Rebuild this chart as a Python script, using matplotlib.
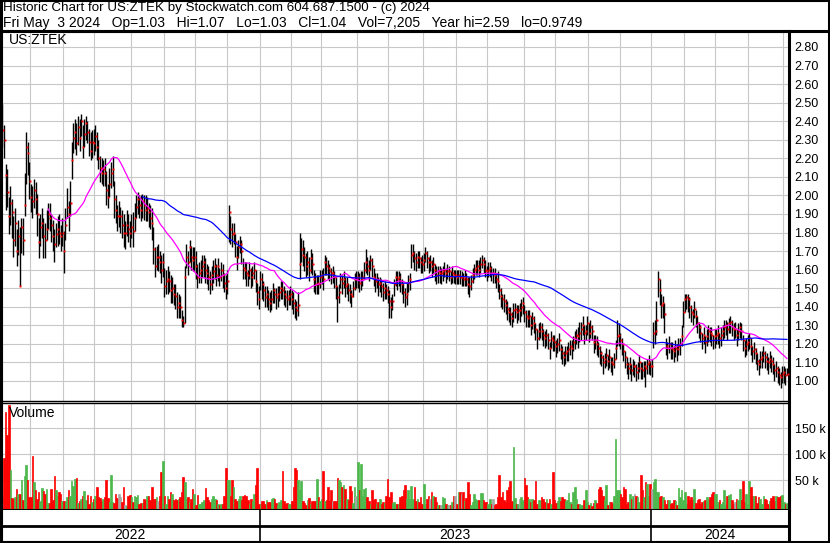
import numpy as np
import pandas as pd
import matplotlib
matplotlib.use("Agg")
import matplotlib.pyplot as plt
from matplotlib.lines import Line2D
from pandas.tseries.holiday import USFederalHolidayCalendar
from pandas.tseries.offsets import CustomBusinessDay

plt.rcParams["font.family"] = ["Liberation Sans", "DejaVu Sans"]

# daily closes (May 2022 -> May 3 2024)
close = [
    2.35, 2.30, 2.11, 2.02, 1.89, 1.96, 1.91, 1.76, 1.85, 1.70,
    1.78, 1.51, 1.83, 1.76, 1.95, 2.26, 2.23, 2.08, 1.99, 1.97,
    2.03, 1.98, 1.90, 1.75, 1.83, 1.85, 1.78, 1.76, 1.82, 1.90,
    1.88, 1.84, 1.78, 1.74, 1.79, 1.82, 1.80, 1.78, 1.80, 1.70,
    1.84, 1.94, 1.90, 1.96, 2.19, 2.31, 2.34, 2.28, 2.37, 2.31,
    2.40, 2.26, 2.33, 2.39, 2.34, 2.29, 2.24, 2.29, 2.28, 2.32,
    2.26, 2.20, 2.15, 2.12, 2.14, 2.12, 2.03, 1.99, 2.06, 2.12,
    2.14, 1.98, 1.92, 1.89, 1.89, 1.89, 1.84, 1.80, 1.80, 1.84,
    1.82, 1.80, 1.83, 1.81, 1.88, 1.94, 1.98, 1.95, 1.92, 1.97,
    1.95, 1.92, 1.93, 1.91, 1.88, 1.85, 1.71, 1.62, 1.67, 1.67,
    1.64, 1.60, 1.64, 1.51, 1.54, 1.55, 1.54, 1.49, 1.50, 1.47,
    1.46, 1.40, 1.42, 1.40, 1.33, 1.31, 1.56, 1.67, 1.64, 1.72,
    1.67, 1.65, 1.67, 1.62, 1.56, 1.58, 1.60, 1.62, 1.64, 1.60,
    1.58, 1.56, 1.52, 1.57, 1.59, 1.62, 1.57, 1.62, 1.56, 1.60,
    1.57, 1.53, 1.50, 1.54, 1.91, 1.82, 1.79, 1.80, 1.75, 1.67,
    1.72, 1.74, 1.70, 1.61, 1.60, 1.58, 1.57, 1.60, 1.56, 1.58,
    1.60, 1.54, 1.48, 1.44, 1.55, 1.52, 1.49, 1.45, 1.47, 1.44,
    1.42, 1.44, 1.49, 1.47, 1.45, 1.47, 1.48, 1.50, 1.49, 1.47,
    1.45, 1.44, 1.46, 1.47, 1.44, 1.42, 1.40, 1.38, 1.41, 1.63,
    1.71, 1.68, 1.67, 1.62, 1.64, 1.60, 1.66, 1.63, 1.55, 1.52,
    1.53, 1.52, 1.56, 1.57, 1.55, 1.64, 1.62, 1.61, 1.59, 1.58,
    1.58, 1.56, 1.51, 1.45, 1.48, 1.55, 1.53, 1.55, 1.51, 1.52,
    1.49, 1.47, 1.46, 1.50, 1.55, 1.55, 1.56, 1.53, 1.55, 1.56,
    1.60, 1.64, 1.62, 1.60, 1.65, 1.62, 1.56, 1.54, 1.55, 1.52,
    1.53, 1.51, 1.48, 1.50, 1.49, 1.47, 1.43, 1.40, 1.43, 1.52,
    1.56, 1.55, 1.56, 1.54, 1.52, 1.48, 1.45, 1.47, 1.53, 1.55,
    1.68, 1.69, 1.66, 1.64, 1.67, 1.66, 1.64, 1.63, 1.65, 1.69,
    1.66, 1.64, 1.64, 1.62, 1.63, 1.60, 1.57, 1.59, 1.58, 1.58,
    1.59, 1.60, 1.58, 1.59, 1.59, 1.56, 1.58, 1.57, 1.57, 1.56,
    1.57, 1.56, 1.56, 1.55, 1.56, 1.55, 1.52, 1.51, 1.54, 1.57,
    1.60, 1.61, 1.62, 1.60, 1.63, 1.65, 1.63, 1.60, 1.59, 1.60,
    1.61, 1.58, 1.58, 1.57, 1.55, 1.54, 1.49, 1.46, 1.44, 1.43,
    1.41, 1.39, 1.37, 1.36, 1.34, 1.38, 1.39, 1.37, 1.38, 1.38,
    1.40, 1.42, 1.37, 1.35, 1.34, 1.35, 1.30, 1.34, 1.31, 1.28,
    1.23, 1.27, 1.29, 1.27, 1.25, 1.23, 1.25, 1.22, 1.18, 1.23,
    1.22, 1.21, 1.19, 1.20, 1.22, 1.17, 1.15, 1.13, 1.15, 1.16,
    1.17, 1.19, 1.18, 1.21, 1.23, 1.25, 1.24, 1.26, 1.28, 1.30,
    1.26, 1.27, 1.31, 1.26, 1.29, 1.27, 1.21, 1.22, 1.20, 1.18,
    1.15, 1.13, 1.10, 1.12, 1.14, 1.11, 1.13, 1.10, 1.09, 1.12,
    1.18, 1.24, 1.25, 1.22, 1.20, 1.16, 1.13, 1.09, 1.07, 1.09,
    1.06, 1.08, 1.08, 1.05, 1.07, 1.10, 1.07, 1.06, 1.08, 1.07,
    1.09, 1.10, 1.08, 1.08, 1.26, 1.27, 1.33, 1.55, 1.49, 1.41,
    1.42, 1.36, 1.19, 1.18, 1.20, 1.18, 1.17, 1.16, 1.18, 1.17,
    1.19, 1.20, 1.24, 1.37, 1.44, 1.45, 1.44, 1.40, 1.37, 1.36,
    1.39, 1.35, 1.31, 1.29, 1.26, 1.23, 1.25, 1.21, 1.24, 1.27,
    1.26, 1.25, 1.22, 1.24, 1.25, 1.26, 1.23, 1.25, 1.27, 1.29,
    1.30, 1.28, 1.31, 1.32, 1.29, 1.28, 1.28, 1.25, 1.27, 1.29,
    1.27, 1.22, 1.18, 1.20, 1.21, 1.23, 1.19, 1.16, 1.17, 1.15,
    1.11, 1.09, 1.12, 1.13, 1.15, 1.13, 1.11, 1.10, 1.12, 1.11,
    1.09, 1.06, 1.07, 1.05, 1.03, 1.02, 1.04, 1.05, 1.03, 1.04,
]

# distance of the daily high above the close, in cents
up_cents = [
    14, 8, 6, 12, 10, 9, 7, 13, 8, 12,
    9, 32, 5, 12, 17, 8, 6, 10, 7, 8,
    6, 9, 11, 13, 7, 8, 10, 9, 10, 6,
    8, 6, 9, 8, 6, 7, 10, 6, 8, 11,
    9, 10, 7, 12, 10, 8, 7, 11, 6, 10,
    4, 12, 8, 4, 6, 7, 10, 6, 8, 6,
    8, 10, 6, 8, 5, 8, 10, 7, 9, 6,
    7, 10, 8, 6, 8, 5, 8, 10, 6, 8,
    8, 6, 7, 10, 8, 6, 4, 5, 8, 4,
    5, 8, 6, 5, 7, 8, 12, 10, 6, 7,
    6, 8, 5, 10, 6, 7, 5, 8, 6, 5,
    6, 8, 5, 6, 5, 4, 6, 7, 6, 4,
    6, 7, 5, 8, 7, 6, 5, 6, 4, 6,
    5, 6, 7, 5, 6, 4, 6, 4, 5, 4,
    6, 5, 7, 6, 4, 7, 6, 5, 4, 6,
    4, 4, 6, 5, 4, 6, 3, 4, 5, 4,
    4, 6, 5, 7, 4, 6, 5, 6, 4, 5,
    6, 5, 4, 3, 5, 4, 3, 4, 5, 4,
    4, 5, 3, 4, 5, 6, 4, 5, 7, 17,
    6, 8, 5, 7, 6, 7, 5, 6, 5, 6,
    4, 5, 4, 3, 6, 4, 5, 4, 4, 3,
    4, 3, 5, 6, 4, 3, 4, 4, 5, 4,
    4, 5, 3, 4, 3, 4, 3, 5, 4, 3,
    4, 7, 5, 5, 3, 4, 5, 4, 3, 4,
    3, 4, 5, 4, 3, 4, 6, 5, 4, 3,
    3, 4, 3, 4, 3, 5, 5, 6, 4, 3,
    6, 5, 4, 5, 3, 4, 3, 5, 4, 3,
    4, 3, 4, 3, 4, 3, 5, 3, 4, 3,
    3, 4, 3, 4, 3, 3, 4, 3, 3, 4,
    3, 4, 3, 3, 4, 3, 4, 5, 3, 4,
    3, 4, 3, 5, 4, 3, 4, 5, 3, 4,
    3, 4, 3, 4, 3, 5, 3, 4, 3, 4,
    3, 4, 3, 4, 3, 4, 3, 4, 3, 4,
    4, 3, 4, 3, 4, 3, 5, 3, 4, 3,
    5, 4, 3, 4, 3, 4, 3, 4, 3, 4,
    3, 4, 3, 3, 4, 3, 4, 3, 4, 3,
    4, 3, 4, 3, 4, 3, 5, 6, 4, 5,
    4, 3, 4, 5, 4, 3, 4, 3, 4, 3,
    4, 3, 4, 3, 4, 3, 4, 3, 4, 3,
    4, 9, 6, 4, 3, 4, 3, 4, 3, 4,
    3, 4, 3, 4, 3, 4, 3, 4, 3, 4,
    3, 4, 3, 4, 6, 6, 10, 4, 6, 6,
    4, 6, 4, 3, 4, 3, 4, 3, 4, 3,
    4, 3, 6, 6, 3, 2, 3, 5, 4, 3,
    4, 3, 4, 3, 4, 3, 4, 3, 4, 3,
    3, 4, 3, 4, 3, 4, 3, 4, 3, 4,
    3, 4, 3, 3, 4, 3, 4, 3, 4, 3,
    4, 3, 4, 3, 4, 3, 4, 3, 4, 3,
    4, 3, 4, 3, 4, 3, 4, 3, 4, 3,
    4, 3, 4, 3, 4, 3, 4, 3, 4, 3,
]

# distance of the daily low below the close, in cents
down_cents = [
    9, 10, 19, 8, 10, 12, 14, 9, 12, 8,
    10, 0, 14, 8, 6, 20, 12, 10, 8, 9,
    10, 8, 12, 9, 10, 8, 12, 10, 6, 8,
    7, 9, 8, 10, 7, 9, 6, 8, 7, 12,
    8, 6, 9, 7, 10, 8, 9, 6, 10, 7,
    8, 6, 7, 9, 6, 8, 5, 9, 6, 8,
    7, 6, 8, 6, 9, 7, 8, 6, 7, 8,
    9, 10, 7, 8, 6, 9, 7, 8, 9, 6,
    7, 8, 6, 9, 7, 6, 8, 7, 6, 9,
    8, 6, 7, 8, 6, 9, 8, 6, 7, 8,
    6, 7, 8, 6, 7, 8, 6, 7, 8, 6,
    7, 6, 8, 6, 4, 2, 25, 6, 7, 8,
    7, 6, 8, 7, 6, 5, 7, 6, 8, 7,
    6, 7, 5, 8, 6, 7, 6, 8, 5, 6,
    7, 5, 6, 7, 16, 8, 7, 6, 8, 7,
    6, 5, 7, 6, 5, 7, 6, 5, 6, 7,
    5, 6, 7, 5, 6, 8, 6, 5, 7, 6,
    5, 6, 7, 5, 6, 7, 5, 6, 5, 6,
    5, 6, 5, 6, 5, 6, 6, 5, 6, 8,
    7, 6, 8, 6, 7, 6, 8, 6, 7, 5,
    6, 5, 6, 5, 6, 7, 5, 6, 5, 6,
    5, 6, 7, 13, 6, 5, 6, 5, 6, 5,
    6, 5, 6, 5, 6, 5, 6, 5, 6, 5,
    5, 6, 5, 6, 5, 6, 5, 6, 5, 6,
    5, 6, 5, 6, 5, 5, 9, 6, 5, 6,
    5, 6, 5, 6, 5, 6, 5, 6, 5, 6,
    7, 5, 6, 5, 6, 5, 6, 5, 6, 5,
    5, 6, 5, 6, 5, 6, 5, 6, 5, 6,
    5, 4, 5, 4, 5, 4, 5, 4, 5, 4,
    5, 4, 5, 4, 5, 4, 5, 6, 5, 4,
    5, 4, 5, 4, 5, 4, 5, 4, 5, 4,
    5, 4, 5, 4, 5, 6, 5, 6, 5, 6,
    5, 6, 5, 6, 5, 6, 5, 6, 5, 6,
    5, 6, 5, 6, 5, 6, 5, 6, 5, 6,
    6, 5, 6, 5, 6, 5, 6, 5, 6, 5,
    6, 5, 6, 5, 6, 5, 6, 5, 6, 5,
    6, 5, 6, 5, 6, 5, 6, 5, 6, 5,
    6, 5, 6, 5, 6, 5, 6, 5, 6, 5,
    6, 5, 6, 5, 6, 5, 6, 5, 6, 5,
    6, 5, 6, 5, 6, 5, 6, 5, 6, 5,
    6, 5, 6, 5, 6, 5, 6, 5, 6, 10,
    5, 6, 5, 6, 8, 7, 8, 10, 8, 7,
    8, 10, 5, 6, 5, 6, 5, 6, 5, 6,
    5, 6, 5, 8, 7, 6, 7, 6, 5, 6,
    5, 6, 5, 6, 5, 6, 5, 6, 5, 6,
    5, 6, 5, 6, 5, 6, 5, 6, 5, 6,
    5, 6, 5, 6, 5, 6, 5, 6, 5, 6,
    5, 6, 5, 6, 5, 6, 5, 6, 5, 6,
    5, 6, 5, 6, 5, 6, 5, 6, 5, 6,
    5, 6, 5, 6, 5, 6, 5, 6, 5, 1,
]

# daily volume, thousands of shares
volume_k = [
    19, 93, 181, 137, 196, 71, 16, 14, 19, 34,
    24, 24, 50, 12, 58, 79, 50, 19, 19, 98,
    48, 31, 15, 28, 10, 36, 29, 24, 34, 6,
    6, 33, 12, 58, 31, 21, 28, 24, 11, 11,
    8, 18, 31, 21, 49, 40, 53, 55, 6, 10,
    14, 21, 29, 12, 23, 4, 21, 8, 15, 21,
    38, 18, 17, 11, 15, 19, 51, 17, 8, 60,
    8, 6, 24, 17, 24, 18, 9, 38, 2, 1,
    21, 23, 18, 8, 21, 18, 23, 5, 6, 6,
    15, 12, 20, 21, 12, 37, 15, 15, 18, 10,
    21, 66, 88, 21, 5, 21, 14, 28, 24, 13,
    15, 13, 15, 18, 28, 56, 47, 15, 18, 8,
    15, 34, 24, 2, 23, 5, 4, 8, 12, 35,
    18, 12, 8, 15, 21, 15, 13, 5, 3, 5,
    5, 21, 74, 51, 51, 21, 50, 37, 15, 10,
    15, 21, 12, 21, 23, 21, 13, 5, 15, 10,
    24, 42, 74, 4, 4, 10, 11, 5, 13, 8,
    9, 15, 17, 15, 6, 2, 8, 12, 69, 10,
    5, 6, 5, 5, 10, 38, 74, 71, 50, 31,
    49, 10, 6, 2, 12, 17, 5, 10, 10, 10,
    52, 18, 10, 15, 69, 10, 12, 38, 10, 31,
    10, 10, 10, 55, 51, 47, 37, 42, 34, 15,
    12, 40, 30, 6, 38, 21, 85, 31, 82, 21,
    34, 36, 18, 10, 5, 31, 13, 15, 4, 8,
    15, 4, 8, 6, 21, 53, 19, 28, 6, 8,
    4, 4, 4, 18, 21, 31, 42, 15, 32, 15,
    40, 15, 37, 11, 15, 8, 18, 5, 44, 5,
    15, 21, 15, 28, 21, 18, 8, 2, 2, 2,
    18, 17, 5, 2, 3, 2, 8, 21, 21, 5,
    27, 27, 24, 27, 10, 17, 47, 24, 2, 8,
    24, 15, 13, 12, 26, 26, 13, 8, 8, 5,
    15, 4, 15, 2, 5, 18, 60, 19, 28, 12,
    8, 31, 38, 49, 10, 115, 17, 4, 4, 15,
    18, 12, 54, 42, 19, 15, 8, 15, 12, 49,
    5, 13, 12, 18, 15, 8, 15, 6, 15, 5,
    66, 13, 6, 10, 18, 11, 18, 15, 10, 13,
    26, 8, 4, 28, 37, 15, 4, 4, 2, 2,
    12, 31, 8, 2, 6, 1, 6, 12, 6, 34,
    38, 31, 21, 12, 42, 2, 8, 8, 4, 21,
    129, 31, 31, 24, 18, 37, 33, 5, 8, 24,
    15, 21, 24, 20, 18, 8, 61, 31, 18, 47,
    44, 21, 44, 34, 47, 52, 28, 28, 18, 21,
    18, 13, 5, 13, 13, 5, 6, 12, 10, 2,
    36, 18, 32, 12, 28, 5, 21, 12, 18, 12,
    34, 6, 12, 15, 4, 8, 10, 12, 18, 13,
    18, 24, 28, 24, 24, 8, 13, 4, 8, 31,
    2, 21, 23, 24, 12, 5, 8, 15, 12, 34,
    12, 49, 8, 24, 5, 49, 37, 21, 21, 21,
    6, 18, 15, 5, 21, 15, 13, 4, 11, 17,
    21, 11, 21, 19, 18, 21, 22, 8, 5, 7,
]

title_1 = "Historic Chart for US:ZTEK by Stockwatch.com 604.687.1500 - (c) 2024"
title_2 = ("Fri May  3 2024   Op=1.03   Hi=1.07   Lo=1.03   Cl=1.04   "
           "Vol=7,205   Year hi=2.59   lo=0.9749")
price_ticks = np.round(np.arange(1.0, 2.81, 0.1), 2)
volume_ticks = [50, 100, 150]

close = np.array(close)
high = close + np.array(up_cents) / 100
low = close - np.array(down_cents) / 100
vol = np.array(volume_k, dtype=float)
n = len(close)
x = np.arange(n)

# trading days ending on the last bar
days = pd.date_range(end="2024-05-03", periods=n,
                     freq=CustomBusinessDay(calendar=USFederalHolidayCalendar()))
month_start = [i for i in range(1, n) if days[i].month != days[i - 1].month]
year_start = [i for i in range(1, n) if days[i].year != days[i - 1].year]

ma30 = pd.Series(close).rolling(30).mean()
ma90 = pd.Series(close).rolling(90).mean()

chg = np.diff(close, prepend=close[0])
vcolors = np.where(chg > 0.001, "#4CB84C", np.where(chg < -0.001, "#FF0000", "#A6A6A6"))

W, H = 830, 543
fig = plt.figure(figsize=(W / 100, H / 100), dpi=100)


def box(l, t, r, b):
    return [l / W, 1 - b / H, (r - l) / W, (b - t) / H]


ax = fig.add_axes(box(1, 31, 789, 401))
axv = fig.add_axes(box(1, 402.5, 789, 509.5))
axd = fig.add_axes(box(1, 509.5, 789, 542))

xlim = (-0.95, n + 0.3)
grid_x = [i - 0.5 for i in month_start]
gcol = "#C8C8C8"

for a in (ax, axv, axd):
    a.set_xlim(*xlim)
    a.set_facecolor("white")
    a.tick_params(length=0)
    a.set_xticks([])
    for s in a.spines.values():
        s.set_color("black")
        s.set_linewidth(1.0)
    a.spines["left"].set_linewidth(2.2)
    a.spines["right"].set_linewidth(2.2)

# price panel
ax.set_ylim(0.892, 2.886)
ax.set_yticks(price_ticks)
ax.set_yticklabels([f"{v:.2f}" for v in price_ticks])
ax.yaxis.tick_right()
ax.tick_params(axis="y", pad=4, labelsize=9)
for g in grid_x:
    ax.axvline(g, color=gcol, lw=0.8, zorder=0)
for p in price_ticks:
    ax.axhline(p, color=gcol, lw=0.8, zorder=0)
ax.spines["top"].set_linewidth(2.2)
ax.vlines(x, low, high, color="black", lw=1.0, zorder=2)
ax.plot(x + 0.4, close, "s", color="red", ms=1.4, mew=0, zorder=3)
ax.plot(x, ma30, color="#FF00FF", lw=0.9, zorder=4)
ax.plot(x, ma90, color="#0000FF", lw=0.9, zorder=4)
ax.text(8 / 787, 0.976, "US:ZTEK", transform=ax.transAxes, fontsize=10,
        va="center", ha="left")

# volume panel
vbase = -5.8
axv.set_ylim(vbase, 200)
axv.set_yticks(volume_ticks)
axv.set_yticklabels([f"{v} k" for v in volume_ticks])
axv.yaxis.tick_right()
axv.tick_params(axis="y", pad=4, labelsize=9)
for g in grid_x:
    axv.axvline(g, color=gcol, lw=0.8, zorder=0)
for v in volume_ticks:
    axv.axhline(v, color=gcol, lw=0.8, zorder=0)
axv.bar(x, vol - vbase, bottom=vbase, width=1.0, color=vcolors,
        edgecolor=vcolors, linewidth=0.5, zorder=2)
axv.spines["bottom"].set_linewidth(2.2)
axv.text(8 / 787, 0.9, "Volume", transform=axv.transAxes, fontsize=10,
         va="center", ha="left")

# year band
axd.set_ylim(0, 2)
axd.set_yticks([])
axd.spines["top"].set_visible(False)
axd.spines["bottom"].set_linewidth(2.2)
axd.axhline(1.0, color="black", lw=2.0)
for i in year_start:
    axd.axvline(i - 0.5, color="black", lw=1.2)
edges = [xlim[0]] + [i - 0.5 for i in year_start] + [xlim[1]]
for k in range(len(edges) - 1):
    yr = days[int(np.ceil(max(edges[k], 0)))].year
    axd.text((edges[k] + edges[k + 1]) / 2, 0.45, str(yr), ha="center",
             va="center", fontsize=10)

# header text and outer frame
fig.text(3 / W, 1 - 8 / H, title_1, fontsize=9.6, va="center", ha="left")
fig.text(3 / W, 1 - 23.5 / H, title_2, fontsize=10, va="center", ha="left")
fig.add_artist(Line2D([0, 1], [1 - 30.5 / H] * 2, color="black", lw=2.2))
fig.add_artist(Line2D([0, 1], [1 - 0.5 / H] * 2, color="black", lw=1.5))
fig.add_artist(Line2D([0, 1], [0.8 / H] * 2, color="black", lw=2.2))
fig.add_artist(Line2D([1 / W] * 2, [0, 1], color="black", lw=2.2))
fig.add_artist(Line2D([1 - 1.5 / W] * 2, [0, 1], color="black", lw=2.2))

fig.savefig("out.png", dpi=100, facecolor="white")
